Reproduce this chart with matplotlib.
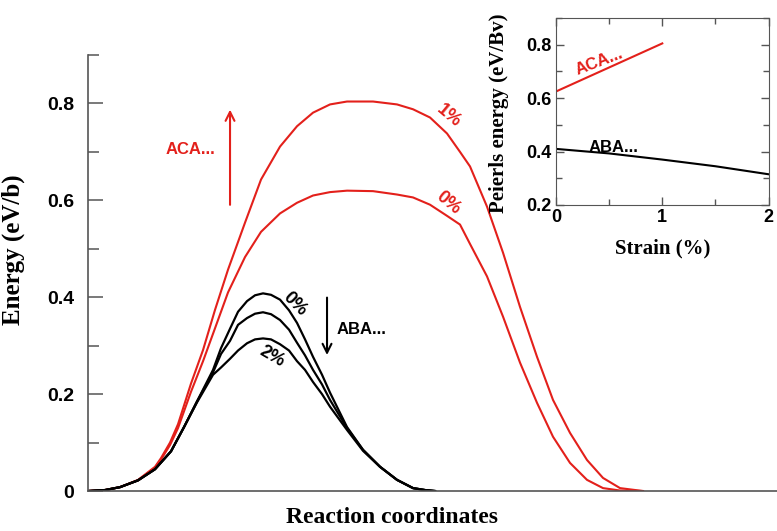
import numpy as np
import matplotlib.pyplot as plt
from matplotlib.ticker import MultipleLocator

# reaction coordinate (arbitrary units) and energy profiles, ABA... stacking
x_aba = [0, 17, 32, 50, 67, 83, 96, 109, 125, 133, 142, 150, 159, 167, 175,
         183, 192, 201, 209, 217, 225, 234, 242, 259, 275, 292, 309, 325, 337, 347]
aba_0 = [0, 0.002, 0.008, 0.022, 0.045, 0.082, 0.132, 0.185, 0.25, 0.295, 0.335,
         0.37, 0.392, 0.404, 0.408, 0.405, 0.395, 0.373, 0.347, 0.313, 0.277, 0.24,
         0.203, 0.132, 0.085, 0.05, 0.023, 0.006, 0.002, 0]
aba_1 = [0, 0.002, 0.008, 0.022, 0.045, 0.082, 0.132, 0.185, 0.245, 0.283, 0.31,
         0.343, 0.357, 0.366, 0.369, 0.365, 0.353, 0.333, 0.306, 0.28, 0.25, 0.22,
         0.188, 0.13, 0.085, 0.05, 0.023, 0.006, 0.002, 0]
aba_2 = [0, 0.002, 0.008, 0.022, 0.045, 0.082, 0.132, 0.183, 0.24, 0.255, 0.273,
         0.29, 0.305, 0.313, 0.315, 0.313, 0.303, 0.29, 0.268, 0.25, 0.225, 0.2,
         0.174, 0.126, 0.083, 0.05, 0.023, 0.006, 0.002, 0]

# ACA... stacking
x_aca = [0, 17, 32, 50, 67, 73, 82, 90, 103, 115, 127, 140, 157, 173, 192, 209,
         225, 242, 259, 285, 309, 325, 342, 359, 372, 382, 399, 415, 432, 449, 465,
         482, 499, 515, 532, 555]
aca_1 = [0, 0.002, 0.008, 0.023, 0.05, 0.068, 0.1, 0.138, 0.222, 0.291, 0.374,
         0.457, 0.554, 0.643, 0.711, 0.753, 0.781, 0.798, 0.804, 0.804, 0.798, 0.788,
         0.771, 0.738, 0.70, 0.67, 0.587, 0.492, 0.38, 0.277, 0.188, 0.12, 0.064,
         0.027, 0.006, 0]
aca_0 = [0, 0.002, 0.008, 0.022, 0.048, 0.065, 0.095, 0.13, 0.205, 0.268, 0.336,
         0.41, 0.483, 0.535, 0.573, 0.595, 0.61, 0.617, 0.62, 0.619, 0.612, 0.606,
         0.591, 0.568, 0.55, 0.51, 0.443, 0.36, 0.265, 0.182, 0.112, 0.058, 0.023,
         0.006, 0.001, 0]

# inset: Peierls energy vs strain
strain_aca = [0, 1]
peierls_aca = [0.625, 0.805]
strain_aba = [0, 0.5, 1, 1.5, 2]
peierls_aba = [0.41, 0.393, 0.37, 0.345, 0.315]

RED = '#e3201b'
GREY = '#555555'
SANS = 'Liberation Sans'
SERIF = 'Liberation Serif'

fig = plt.figure(figsize=(7.77, 5.31), dpi=100)
ax = fig.add_axes([0.1133, 0.0753, 0.8867, 0.8211])

ax.plot(x_aca, aca_1, color=RED, lw=1.5)
ax.plot(x_aca, aca_0, color=RED, lw=1.5)
for y in (aba_0, aba_1, aba_2):
    ax.plot(x_aba, y, color='black', lw=1.6)

ax.set_xlim(0, 689)
ax.set_ylim(0, 0.9)
ax.spines['top'].set_visible(False)
ax.spines['right'].set_visible(False)
for s in ('left', 'bottom'):
    ax.spines[s].set_color(GREY)
    ax.spines[s].set_linewidth(1.2)
ax.set_xticks([])
ax.yaxis.set_minor_locator(MultipleLocator(0.1))
ax.set_yticks([0, 0.2, 0.4, 0.6, 0.8])
ax.set_yticklabels(['0', '0.2', '0.4', '0.6', '0.8'])
ax.tick_params(axis='y', which='major', direction='in', length=11, width=1.1,
               color=GREY, pad=10)
ax.tick_params(axis='y', which='minor', direction='in', length=8, width=1.1,
               color=GREY)
for lab in ax.get_yticklabels():
    lab.set_fontfamily(SANS)
    lab.set_fontweight('bold')
    lab.set_fontsize(14)

ax.set_ylabel('Energy (eV/b)', fontfamily=SERIF, fontweight='bold', fontsize=18)
ax.yaxis.set_label_coords(-0.091, 0.553)
ax.set_xlabel('Reaction coordinates', fontfamily=SERIF, fontweight='bold', fontsize=17)
ax.xaxis.set_label_coords(0.441, -0.036)

# labels and arrows on the profiles
ax.annotate('', xy=(142, 0.793), xytext=(142, 0.585),
            arrowprops=dict(arrowstyle='->', color=RED, lw=1.5, mutation_scale=16))
ax.text(102, 0.705, 'ACA...', color=RED, fontfamily=SANS, fontweight='bold',
        fontsize=12, ha='center', va='center')
ax.text(361, 0.775, '1%', color=RED, fontfamily=SANS, fontweight='bold',
        fontsize=13, ha='center', va='center', rotation=-40)
ax.text(360, 0.595, '0%', color=RED, fontfamily=SANS, fontweight='bold',
        fontsize=13, ha='center', va='center', rotation=-40)

ax.annotate('', xy=(239, 0.275), xytext=(239, 0.405),
            arrowprops=dict(arrowstyle='->', color='black', lw=1.5, mutation_scale=16))
ax.text(249, 0.333, 'ABA...', color='black', fontfamily=SANS, fontweight='bold',
        fontsize=12, ha='left', va='center')
ax.text(207, 0.385, '0%', color='black', fontfamily=SANS, fontweight='bold',
        fontsize=13, ha='center', va='center', rotation=-45)
ax.text(184, 0.277, '2%', color='black', fontfamily=SANS, fontweight='bold',
        fontsize=13, ha='center', va='center', rotation=-30)

# inset
ins = fig.add_axes([0.7156, 0.614, 0.2735, 0.352])
ins.plot(strain_aca, peierls_aca, color=RED, lw=1.5)
ins.plot(strain_aba, peierls_aba, color='black', lw=1.5)
ins.set_xlim(0, 2)
ins.set_ylim(0.2, 0.9)
ins.set_xticks([0, 1, 2])
ins.set_yticks([0.2, 0.4, 0.6, 0.8])
ins.xaxis.set_minor_locator(MultipleLocator(0.5))
ins.yaxis.set_minor_locator(MultipleLocator(0.1))
ins.tick_params(which='both', direction='in', top=True, right=True,
                color=GREY, width=1.0)
ins.tick_params(which='major', length=6, pad=3)
ins.tick_params(which='minor', length=4)
for s in ins.spines.values():
    s.set_color(GREY)
for lab in ins.get_xticklabels() + ins.get_yticklabels():
    lab.set_fontfamily(SANS)
    lab.set_fontweight('bold')
    lab.set_fontsize(13)
ins.set_xlabel('Strain (%)', fontfamily=SERIF, fontweight='bold', fontsize=15)
ins.xaxis.set_label_coords(0.5, -0.18)
ins.set_ylabel('Peierls energy (eV/Bv)', fontfamily=SERIF, fontweight='bold',
               fontsize=15)
ins.yaxis.set_label_coords(-0.22, 0.49)
ins.text(0.41, 0.735, 'ACA...', color=RED, fontfamily=SANS, fontweight='bold',
         fontsize=12, rotation=21, ha='center', va='center')
ins.text(0.54, 0.417, 'ABA...', color='black', fontfamily=SANS, fontweight='bold',
         fontsize=12, ha='center', va='center')

fig.savefig('out.png', dpi=100)
